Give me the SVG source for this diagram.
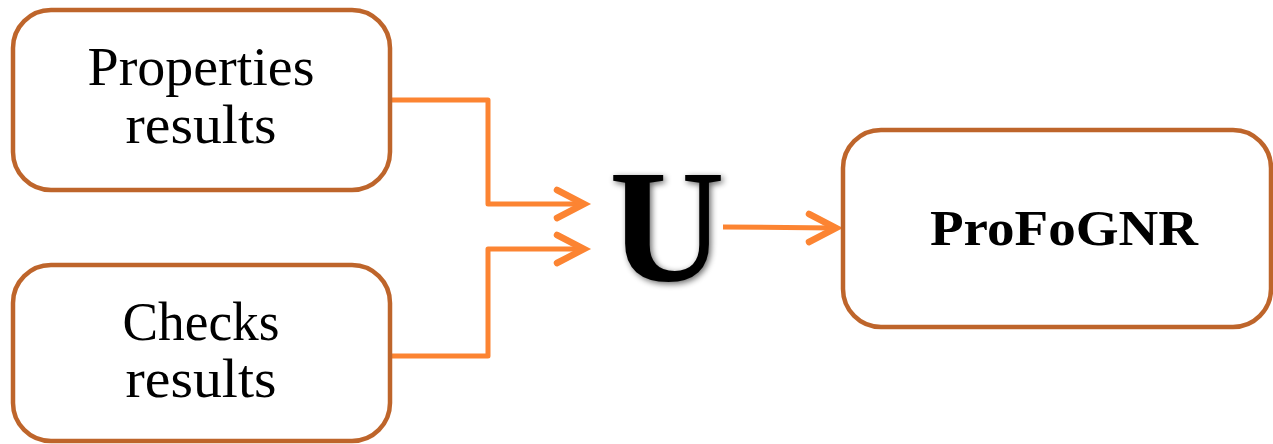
<svg xmlns="http://www.w3.org/2000/svg" width="1273" height="444" viewBox="0 0 1273 444">
<style>
.box{fill:#fff;stroke:#BE652B;stroke-width:4.5}
.t{font-family:"Liberation Serif",serif;fill:#000;text-anchor:middle}
.c{fill:none;stroke:#FC8432;stroke-width:5;stroke-linejoin:round}
.ah{fill:none;stroke:#FC8432;stroke-width:6.5;stroke-linecap:round;stroke-linejoin:miter}
</style>
<defs>
<filter id="sh" x="-20%" y="-20%" width="140%" height="140%">
<feGaussianBlur in="SourceAlpha" stdDeviation="3"/>
<feOffset dx="2" dy="2" result="b"/>
<feComponentTransfer><feFuncA type="linear" slope="0.6"/></feComponentTransfer>
<feMerge><feMergeNode/><feMergeNode in="SourceGraphic"/></feMerge>
</filter>
</defs>
<g id="connectors">
<path class="c" d="M390,100 H488 V204 H582"/>
<path class="ah" d="M557,190 L584,204 L557,218"/>
<path class="c" d="M390,356 H488 V249 H582"/>
<path class="ah" d="M557,235 L584,249 L557,263"/>
<path class="c" d="M723,227 L833,228"/>
<path class="ah" d="M809,214 L836,228 L809,242"/>
</g>
<g id="properties">
<rect class="box" x="13" y="10" width="377" height="180" rx="38"/>
<text class="t" x="201" y="85" font-size="54" textLength="227" lengthAdjust="spacingAndGlyphs">Properties</text>
<text class="t" x="201" y="143" font-size="54" textLength="151" lengthAdjust="spacingAndGlyphs">results</text>
</g>
<g id="checks">
<rect class="box" x="13" y="265" width="377" height="176" rx="38"/>
<text class="t" x="201" y="340" font-size="54" textLength="157" lengthAdjust="spacingAndGlyphs">Checks</text>
<text class="t" x="201" y="397" font-size="54" textLength="151" lengthAdjust="spacingAndGlyphs">results</text>
</g>
<g id="union">
<text class="t" x="667" y="281" font-size="160" font-weight="bold" filter="url(#sh)">U</text>
</g>
<g id="profognr">
<rect class="box" x="843" y="130" width="428" height="197" rx="38"/>
<text class="t" x="1064" y="245" font-size="50" font-weight="bold" textLength="268" lengthAdjust="spacingAndGlyphs">ProFoGNR</text>
</g>
</svg>
